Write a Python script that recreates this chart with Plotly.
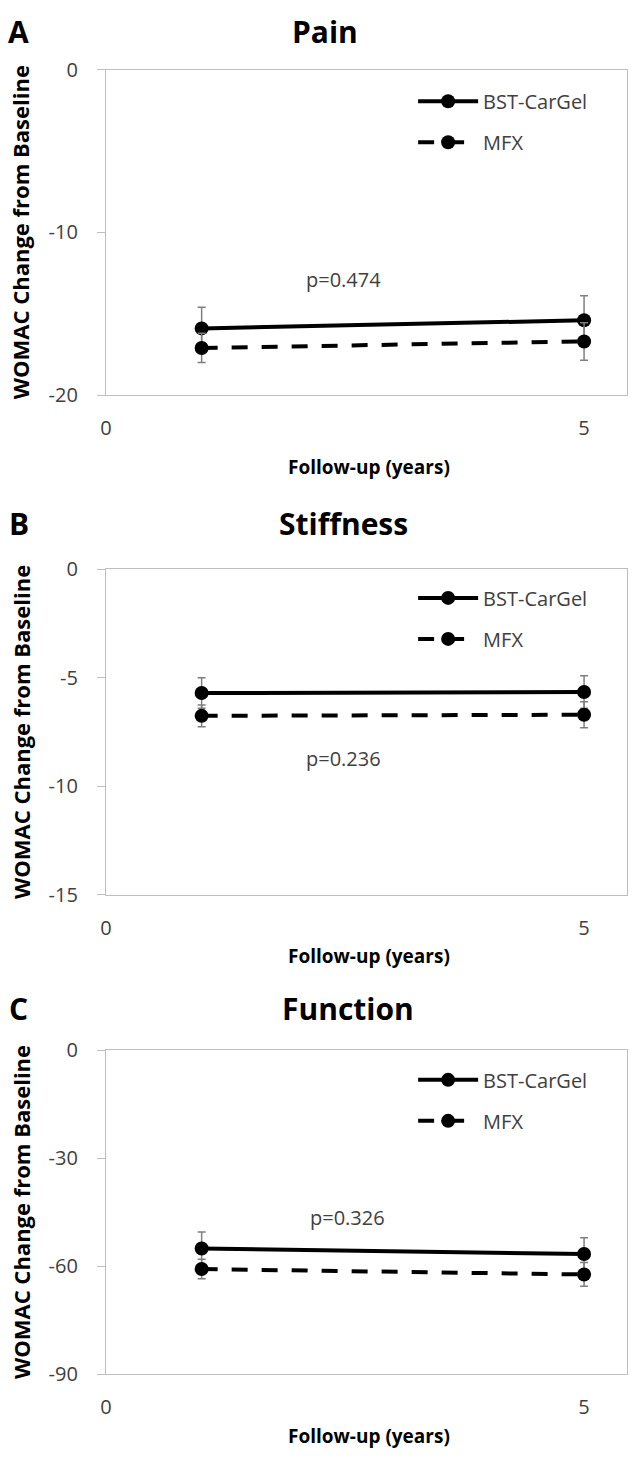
import plotly.graph_objects as go

# ---------------- data ----------------
years = [1, 5]
x_tick_vals = [0, 5]
x_tick_text = ["0", "5"]

panel_letters = ["A", "B", "C"]
panel_titles = ["Pain", "Stiffness", "Function"]
series_names = ["BST-CarGel", "MFX"]

pain_bst = [-15.9, -15.4]
pain_bst_err = [1.3, 1.5]
pain_mfx = [-17.1, -16.7]
pain_mfx_err = [0.9, 1.15]

stiff_bst = [-5.7, -5.65]
stiff_bst_err = [0.7, 0.75]
stiff_mfx = [-6.75, -6.7]
stiff_mfx_err = [0.5, 0.6]

func_bst = [-55.1, -56.6]
func_bst_err = [4.6, 4.5]
func_mfx = [-60.8, -62.3]
func_mfx_err = [2.7, 3.3]

y_ticks_pain = [0, -10, -20]
y_ticks_stiff = [0, -5, -10, -15]
y_ticks_func = [0, -30, -60, -90]

p_values = ["p=0.474", "p=0.236", "p=0.326"]
p_pos_x = [2.48, 2.48, 2.53]
p_pos_y = [-12.9, -8.7, -46.6]

x_title = "Follow-up (years)"
y_title = "WOMAC Change from Baseline"

# ---------------- layout helpers ----------------
W, H = 636, 1465
FONT = "Open Sans"

def px_x(x):
    return x / W

def px_y(y):
    return 1 - y / H

# plot-area pixel boxes (top, bottom) for each panel
boxes = [(56.7, 388.3), (565.7, 897.5), (1055.7, 1385.7)]
x_left, x_right = 101, 627
title_y = [18, 519, 1013]
title_x = [322, 341, 345]
xtitle_y = [462, 960, 1449]
legend_top = [69, 575, 1066]

panels = [
    (pain_bst, pain_bst_err, pain_mfx, pain_mfx_err, y_ticks_pain),
    (stiff_bst, stiff_bst_err, stiff_mfx, stiff_mfx_err, y_ticks_stiff),
    (func_bst, func_bst_err, func_mfx, func_mfx_err, y_ticks_func),
]

fig = go.Figure()
annotations = []
layout_axes = {}

def ann(text, x, y, size, color="black", xref="paper", yref="paper", angle=0):
    return dict(text=text, x=x, y=y, xref=xref, yref=yref, showarrow=False,
                xanchor="center", yanchor="middle", textangle=angle,
                font=dict(family=FONT, size=size, color=color))

for i, (bst, bst_err, mfx, mfx_err, yt) in enumerate(panels):
    n = "" if i == 0 else str(i + 1)
    xa, ya = "x" + n, "y" + n
    lg = "legend" + n
    for name, vals, errs, dash in [
        (series_names[0], bst, bst_err, "solid"),
        (series_names[1], mfx, mfx_err, "16px,14px"),
    ]:
        fig.add_trace(go.Scatter(
            x=years, y=vals, name=name, mode="lines+markers",
            xaxis=xa, yaxis=ya, legend=lg, legendgroup=name + n,
            line=dict(color="black", width=4, dash=dash),
            marker=dict(color="black", size=14),
            error_y=dict(type="data", array=errs, visible=True,
                         color="#7f7f7f", thickness=1.5, width=4),
            showlegend=True,
        ))
    top, bot = boxes[i]
    layout_axes["xaxis" + n] = dict(
        domain=[px_x(x_left), px_x(x_right)], anchor=ya, range=[0, 5.45],
        tickvals=x_tick_vals, ticktext=x_tick_text, ticks="", ticklen=0,
        showline=True, linecolor="#bfbfbf", linewidth=1.3, mirror=True,
        showgrid=False, zeroline=False,
        ticklabelstandoff=15,
        tickfont=dict(family=FONT, size=20, color="#404040"),
    )
    layout_axes["yaxis" + n] = dict(
        domain=[px_y(bot), px_y(top)], anchor=xa, range=[yt[-1], 0],
        tickvals=yt, ticktext=[str(v) for v in yt],
        ticks="outside", ticklen=8, tickcolor="#bfbfbf",
        showline=True, linecolor="#bfbfbf", linewidth=1.3, mirror=True,
        showgrid=False, zeroline=False, ticklabelstandoff=15,
        tickfont=dict(family=FONT, size=20, color="#404040"),
    )
    layout_axes[lg] = dict(
        x=px_x(411), y=px_y(legend_top[i]), xanchor="left", yanchor="top",
        bgcolor="rgba(0,0,0,0)", tracegroupgap=12,
        font=dict(family=FONT, size=20, color="#404040"),
        itemwidth=60,
    )
    annotations.append(ann("<b>%s</b>" % panel_letters[i], px_x(13), px_y(title_y[i]), 30))
    annotations.append(ann("<b>%s</b>" % panel_titles[i], px_x(title_x[i]), px_y(title_y[i]), 30))
    annotations.append(ann("<b>%s</b>" % x_title, px_x(366), px_y(xtitle_y[i]), 19))
    annotations.append(ann("<b>%s</b>" % y_title, px_x(15), px_y((top + bot) / 2), 22, angle=-90))
    annotations.append(ann(p_values[i], p_pos_x[i], p_pos_y[i], 20, color="#404040", xref=xa, yref=ya))

fig.update_layout(
    width=W, height=H, margin=dict(l=0, r=0, t=0, b=0),
    paper_bgcolor="white", plot_bgcolor="white",
    annotations=annotations, **layout_axes,
)

fig.write_html("out.html", config={"displayModeBar": False},
               post_script="document.body.style.margin='0px';")
